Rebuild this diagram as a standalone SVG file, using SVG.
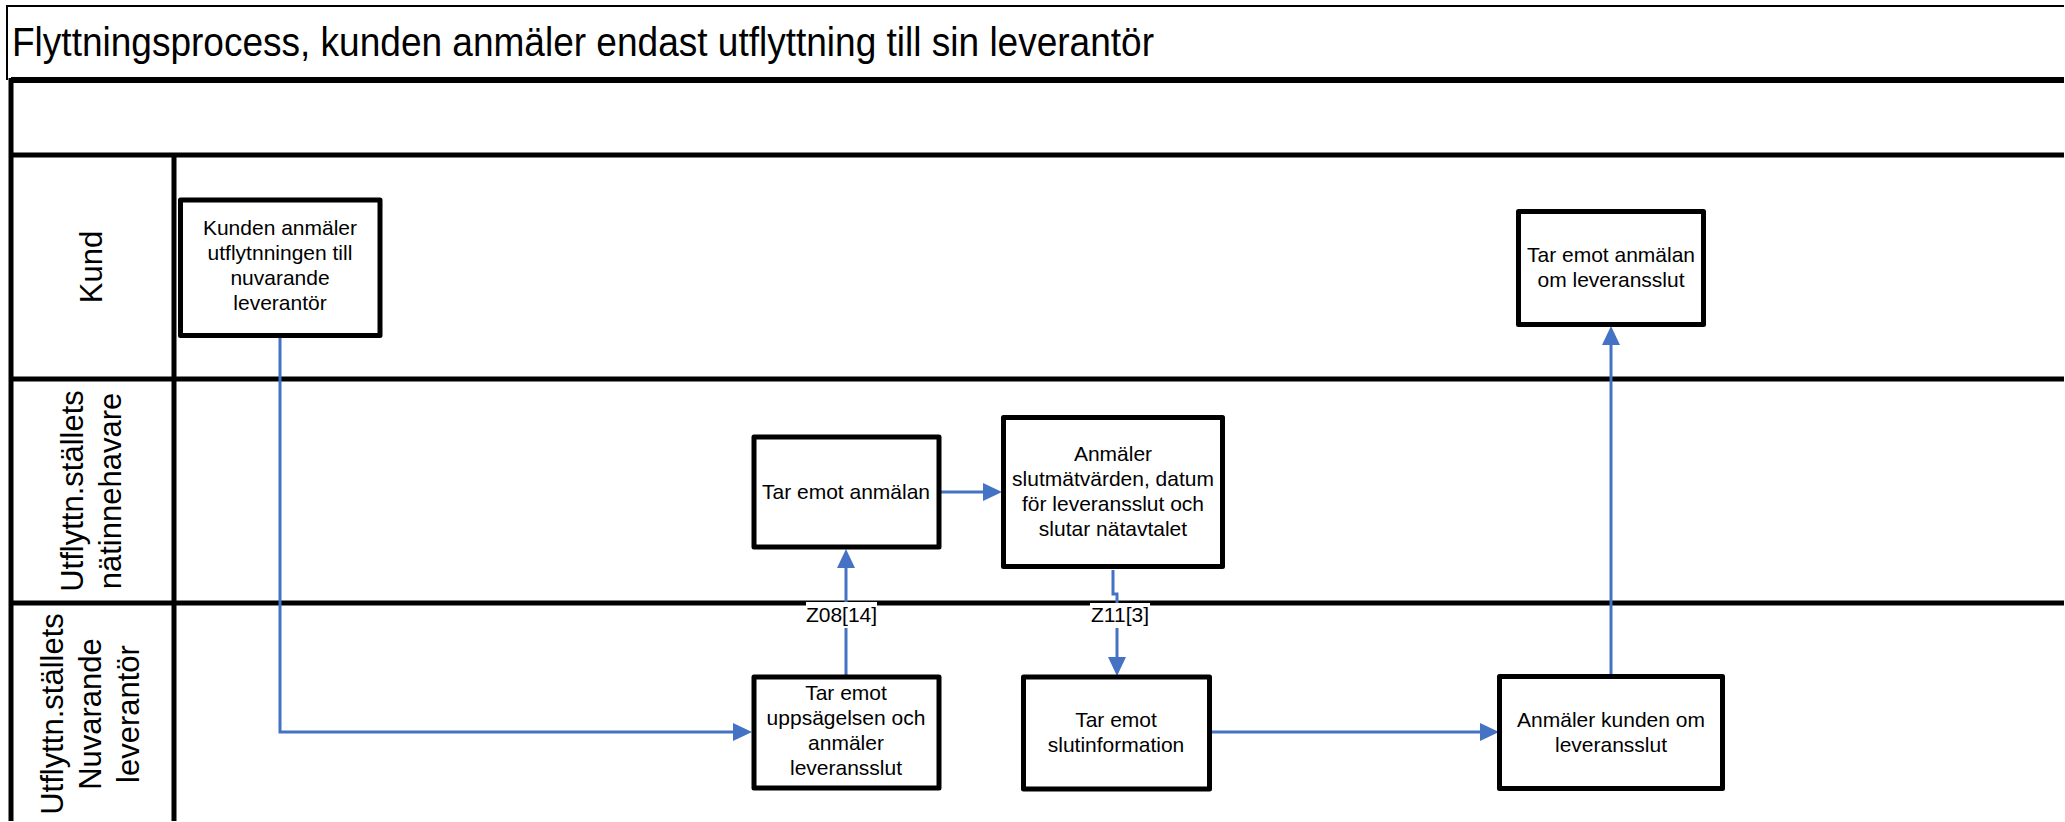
<svg xmlns="http://www.w3.org/2000/svg" width="2065" height="822" viewBox="0 0 2065 822" style="overflow:hidden;display:block">
  <style>
    .pool { fill: none; stroke: #000; stroke-width: 5; }
    .lane-label { font-family: "Liberation Sans", Arial, sans-serif; font-size: 31px; fill: #000; text-anchor: middle; }
    .box { fill: #fff; stroke: #000; stroke-width: 5; stroke-linejoin: round; }
    .txt { font-family: "Liberation Sans", Arial, sans-serif; font-size: 21px; fill: #000; text-anchor: middle; }
    .conn { fill: none; stroke: #4472C4; stroke-width: 3; marker-end: url(#arr); }
    .lbl-bg { fill: #fff; stroke: none; }
  </style>
  <defs>
    <marker id="arr" markerUnits="userSpaceOnUse" markerWidth="20" markerHeight="20" viewBox="0 0 20 20" refX="9" refY="10" orient="auto">
      <path d="M0,1 L19,10 L0,19 Z" fill="#4472C4"/>
    </marker>
  </defs>
  <rect x="0" y="0" width="2065" height="822" fill="#fff"/>

  <g id="title">
    <path d="M2064,6 H7 V80" fill="none" stroke="#000" stroke-width="2"/>
    <text x="12" y="56" font-family="'Liberation Sans', Arial, sans-serif" font-size="40" textLength="1142" lengthAdjust="spacingAndGlyphs" fill="#000">Flyttningsprocess, kunden anmäler endast utflyttning till sin leverantör</text>
  </g>

  <g id="pool">
    <line x1="11" y1="80" x2="2064" y2="80" stroke="#000" stroke-width="6"/>
    <line x1="11" y1="155" x2="2064" y2="155" class="pool"/>
    <line x1="11" y1="379" x2="2064" y2="379" class="pool"/>
    <line x1="11" y1="603" x2="2064" y2="603" class="pool"/>
    <line x1="11" y1="78" x2="11" y2="821" class="pool"/>
    <line x1="174" y1="155" x2="174" y2="821" class="pool"/>
  </g>

  <g id="lane-kund">
    <text class="lane-label" transform="translate(102,267) rotate(-90)">Kund</text>
  </g>
  <g id="lane-natinnehavare">
    <text class="lane-label" transform="translate(83,491) rotate(-90)">Utflyttn.ställets</text>
    <text class="lane-label" transform="translate(121,491) rotate(-90)">nätinnehavare</text>
  </g>
  <g id="lane-leverantor">
    <text class="lane-label" transform="translate(63,714) rotate(-90)">Utflyttn.ställets</text>
    <text class="lane-label" transform="translate(101,714) rotate(-90)">Nuvarande</text>
    <text class="lane-label" transform="translate(139,714) rotate(-90)">leverantör</text>
  </g>

  <g id="connectors">
    <path class="conn" d="M280,336 V732 H742"/>
    <path class="conn" d="M846,677 V559"/>
    <path class="conn" d="M940,492 H992"/>
    <path class="conn" d="M1113,570 V594 H1117 V666"/>
    <path class="conn" d="M1212,732 H1489"/>
    <path class="conn" d="M1611,676 V336"/>
    <rect class="lbl-bg" x="806" y="602" width="71" height="26"/>
    <text class="txt" x="841.5" y="622">Z08[14]</text>
    <rect class="lbl-bg" x="1090" y="603" width="60" height="25"/>
    <text class="txt" x="1120" y="622">Z11[3]</text>
  </g>

  <g id="node-kunden-anmaler">
    <rect class="box" x="180.5" y="200" width="199.5" height="135.5"/>
    <text class="txt"><tspan x="280" y="235">Kunden anmäler</tspan><tspan x="280" y="260">utflytnningen till</tspan><tspan x="280" y="285">nuvarande</tspan><tspan x="280" y="310">leverantör</tspan></text>
  </g>

  <g id="node-tar-emot-anmalan">
    <rect class="box" x="754" y="437" width="185" height="110"/>
    <text class="txt" x="846" y="499">Tar emot anmälan</text>
  </g>

  <g id="node-anmaler-slutmatvarden">
    <rect class="box" x="1003.5" y="417.5" width="219" height="149"/>
    <text class="txt"><tspan x="1113" y="461">Anmäler</tspan><tspan x="1113" y="486">slutmätvärden, datum</tspan><tspan x="1113" y="511">för leveransslut och</tspan><tspan x="1113" y="536">slutar nätavtalet</tspan></text>
  </g>

  <g id="node-tar-emot-uppsagelsen">
    <rect class="box" x="754" y="677" width="185" height="111"/>
    <text class="txt"><tspan x="846" y="700">Tar emot</tspan><tspan x="846" y="725">uppsägelsen och</tspan><tspan x="846" y="750">anmäler</tspan><tspan x="846" y="775">leveransslut</tspan></text>
  </g>

  <g id="node-tar-emot-slutinformation">
    <rect class="box" x="1023.5" y="677" width="186" height="112"/>
    <text class="txt"><tspan x="1116" y="727">Tar emot</tspan><tspan x="1116" y="752">slutinformation</tspan></text>
  </g>

  <g id="node-anmaler-kunden">
    <rect class="box" x="1499.5" y="676.5" width="223" height="112"/>
    <text class="txt"><tspan x="1611" y="727">Anmäler kunden om</tspan><tspan x="1611" y="752">leveransslut</tspan></text>
  </g>

  <g id="node-tar-emot-anmalan-leveransslut">
    <rect class="box" x="1518.5" y="211.5" width="185" height="113"/>
    <text class="txt"><tspan x="1611" y="262">Tar emot anmälan</tspan><tspan x="1611" y="287">om leveransslut</tspan></text>
  </g>
</svg>
